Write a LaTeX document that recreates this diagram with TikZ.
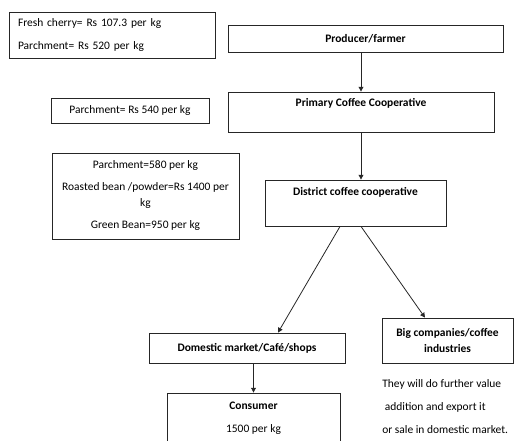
\documentclass[tikz,border=0pt]{standalone}
\usepackage{fontspec}
\setmainfont{Carlito}
\usetikzlibrary{arrows.meta,positioning}

\begin{document}
\begin{tikzpicture}[
  x=0.75pt, y=-0.75pt,
  font=\fontsize{8.6}{12}\selectfont,
  box/.style={draw=black!85, line width=0.6pt, inner sep=0pt},
  head/.style={font=\fontsize{8.6}{12}\selectfont\bfseries},
  arr/.style={draw=black!85, line width=0.6pt, -{Triangle[length=3.6pt,width=3.6pt]}}
]
\useasboundingbox (0,0) rectangle (514,441);

% price boxes on the left
\node[box, minimum width=154.5pt, minimum height=34.5pt, inner xsep=6.75pt,
      text width=141pt, align=left] (pfarm) at (112,35)
  {Fresh cherry= Rs 107.3 per kg\\[5pt]Parchment= Rs 520 per kg};
\node[box, minimum width=118.5pt, minimum height=18.75pt] (pprim) at (130,110.5)
  {Parchment= Rs 540 per kg};
\node[box, minimum width=140.25pt, minimum height=64.5pt, align=center] (pdist) at (145.5,196)
  {Parchment=580 per kg\\[4.5pt]Roasted bean /powder=Rs 1400 per\\kg\\[4.5pt]Green Bean=950 per kg};

% chain
\node[box, head, minimum width=206.25pt, minimum height=20.25pt] (farmer) at (365.5,38.5) {Producer/farmer};
\node[box, minimum width=199.5pt, minimum height=30pt] (primary) at (361,112) {};
\node[head] (primaryt) at (361,103) {Primary Coffee Cooperative};
\node[box, minimum width=135.75pt, minimum height=34.5pt] (district) at (355.5,203) {};
\node[head] (districtt) at (355.5,192) {District coffee cooperative};
\node[box, head, minimum width=147pt, minimum height=22.5pt] (domestic) at (247,348) {Domestic market/Café/shops};
\node[box, head, minimum width=98.25pt, minimum height=33.75pt, align=center] (big) at (447.5,340.5)
  {Big companies/coffee\\industries};
\node[box, minimum width=129.75pt, minimum height=45pt] (consumer) at (253.5,423) {};
\node[head] (consumert) at (253.5,406) {Consumer};
\node (consumerp) at (253.5,430) {1500 per kg};
\node[anchor=west, inner sep=0pt, align=left, font=\fontsize{8.6}{17.25}\selectfont] (note) at (382,407)
  {They will do further value\\\ addition and export it\\or sale in domestic market.};

% arrows
\draw[arr] (farmer.south -| primary.north) -- (primary.north);
\draw[arr] (primary.south) -- (primary.south |- district.north);
\draw[arr] ([xshift=-11.6pt]district.south) -- ([xshift=23.25pt]domestic.north);
\draw[arr] ([xshift=4.1pt]district.south) -- ([xshift=-16.9pt]big.north);
\draw[arr] (domestic.south -| consumer.north) -- (consumer.north);
\end{tikzpicture}
\end{document}
